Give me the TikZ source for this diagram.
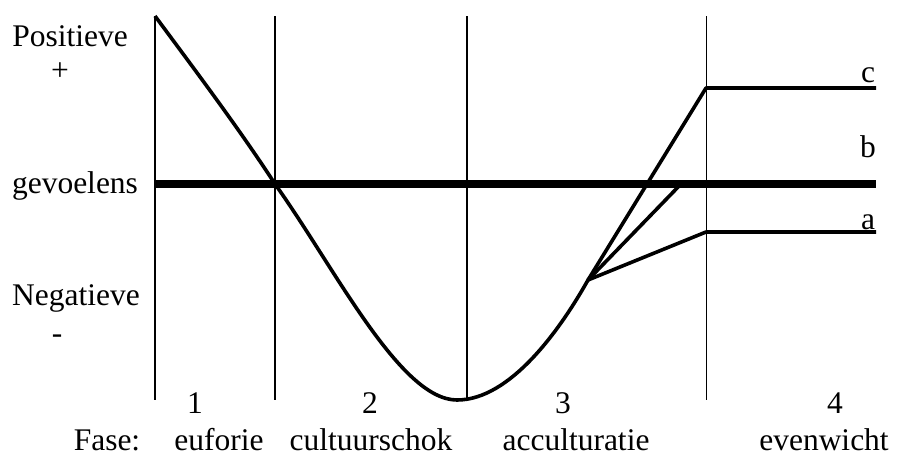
\documentclass[tikz,border=0pt]{standalone}
\usepackage{fontspec}
\setmainfont{Liberation Serif}
\begin{document}
\begin{tikzpicture}[x=1pt,y=-1pt,
  lbl/.style={inner sep=0pt,anchor=base,font=\fontsize{31.5}{36}\selectfont},
  bottomlbl/.style={lbl,text depth=0pt},
  phase/.style={line width=1.6pt},
  thinphase/.style={line width=1pt},
  curve/.style={line width=3.6pt,line join=round,line cap=butt},
  zero/.style={line width=7.5pt}]
\useasboundingbox (0,0) rectangle (898,455);
% phase boundaries
\coordinate (v1t) at (155,16); \coordinate (v1b) at (155,400);
\coordinate (v2t) at (275,16); \coordinate (v2b) at (275,400);
\coordinate (v3t) at (467,16); \coordinate (v3b) at (467,400);
\coordinate (v4t) at (706,16); \coordinate (v4b) at (706,400);
\draw[phase] (v1t) -- (v1b);
\draw[phase] (v2t) -- (v2b);
\draw[phase] (v3t) -- (v3b);
\draw[thinphase] (v4t) -- (v4b);
% zero line
\coordinate (z0) at (155,184); \coordinate (z1) at (876,184);
\draw[zero] (z0) -- (z1);
% curve
\coordinate (s) at (155,16);
\coordinate (x1) at (275,184);
\coordinate (m) at (457,400);
\coordinate (br) at (588,280);
\coordinate (c1) at (706,88); \coordinate (c2) at (876,88);
\coordinate (b1) at (681,184);
\coordinate (a1) at (706,232); \coordinate (a2) at (876,232);
\draw[curve] (s) .. controls (195,70) and (240,130) .. (x1)
  .. controls (335,268) and (400,400) .. (m)
  .. controls (510,400) and (560,330) .. (br)
  -- (c1) -- (c2);
\draw[curve] (br) -- (b1);
\draw[curve] (br) -- (a1) -- (a2);
% labels
\node[lbl] (pos) at (70,46) {Positieve};
\node[lbl] (plus) at (60,80) {+};
\node[lbl] (gev) at (75,193) {gevoelens};
\node[lbl] (neg) at (76,305) {Negatieve};
\node[lbl] (min) at (57,343) {-};
\node[lbl] (lc) at (868,82) {c};
\node[lbl] (lb) at (868,157) {b};
\node[lbl] (la) at (868,229) {a};
\node[lbl] (n1) at (195,413) {1};
\node[lbl] (n2) at (370,413) {2};
\node[lbl] (n3) at (563,413) {3};
\node[lbl] (n4) at (835,413) {4};
\node[bottomlbl] (fase) at (107,450) {Fase:};
\node[bottomlbl] (p1) at (219,450) {euforie};
\node[bottomlbl] (p2) at (371,450) {cultuurschok};
\node[bottomlbl] (p3) at (576,450) {acculturatie};
\node[bottomlbl] (p4) at (824,450) {evenwicht};
\end{tikzpicture}
\end{document}
